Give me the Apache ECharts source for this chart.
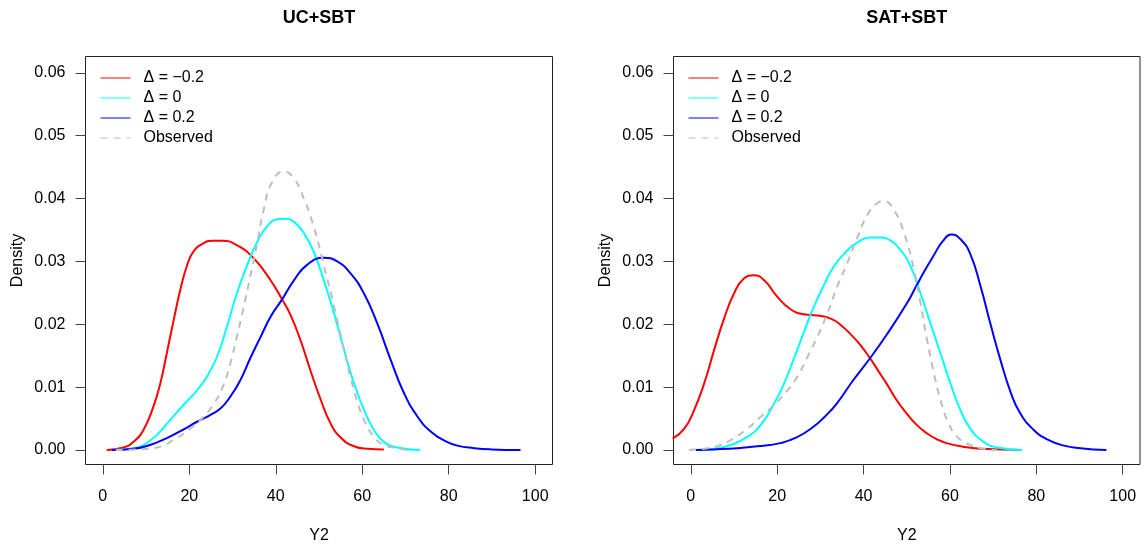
<!DOCTYPE html>
<html><head><meta charset="utf-8">
<script src="https://cdn.jsdelivr.net/npm/echarts@6/dist/echarts.min.js"></script>
<style>html,body{margin:0;padding:0;background:#fff}#c{width:1144px;height:548px}</style>
</head><body><div id="c"></div>
<script>
// ---- data ----
const panelTitles = ['UC+SBT', 'SAT+SBT'];
const seriesNames = ['\u0394 = \u22120.2', '\u0394 = 0', '\u0394 = 0.2', 'Observed'];
const xTicks = [0, 20, 40, 60, 80, 100];
const yTicks = [0, 0.01, 0.02, 0.03, 0.04, 0.05, 0.06];
const xAxisTitle = 'Y2';
const yAxisTitle = 'Density';

// UC+SBT panel: [Y2, density]
const ucNeg = [[0.9,0],[4.8,0.0004],[7.1,0.0013],[9.4,0.0032],[11.7,0.0069],[13.3,0.0106],[14.8,0.0154],[16.4,0.0207],[17.9,0.0254],[19.5,0.0294],[21.0,0.0316],[23.3,0.0329],[25.5,0.0333],[27.6,0.0333],[31.0,0.0326],[34.9,0.0305],[38.8,0.0270],[41.5,0.0239],[43.4,0.0215],[45.7,0.0175],[48.0,0.0127],[50.4,0.0080],[52.7,0.0042],[55.0,0.0020],[58.1,0.0006],[61.2,0.0002],[65.0,0.0001]];
const ucZero = [[2.1,0],[7.1,0.0003],[9.4,0.0008],[12.5,0.0024],[15.6,0.0048],[18.7,0.0072],[21.8,0.0095],[24.1,0.0117],[26.4,0.0148],[28.7,0.0196],[31.0,0.0249],[33.4,0.0294],[35.7,0.0331],[38.0,0.0356],[40.3,0.0367],[42.2,0.0368],[44.2,0.0363],[46.5,0.0345],[48.8,0.0315],[51.1,0.0270],[53.5,0.0217],[55.8,0.0159],[58.1,0.0106],[60.4,0.0064],[62.7,0.0032],[65.0,0.0013],[68.1,0.0004],[73.4,0]];
const ucPos = [[2.1,0],[7.1,0.0002],[10.9,0.0008],[14.8,0.0019],[18.7,0.0033],[21.8,0.0045],[24.9,0.0056],[27.2,0.0066],[29.5,0.0085],[31.8,0.0111],[34.1,0.0146],[36.5,0.0180],[38.8,0.0212],[41.5,0.0240],[44.2,0.0270],[47.3,0.0295],[51.1,0.0306],[54.2,0.0300],[57.3,0.0281],[60.4,0.0249],[63.5,0.0201],[66.6,0.0143],[69.7,0.0090],[72.8,0.0053],[75.9,0.0029],[79.0,0.0015],[82.0,0.0007],[85.9,0.0003],[89.8,0.0001],[96.6,0]];
const ucObs = [[3.0,0],[7.9,0.0001],[12.5,0.0004],[16.4,0.0016],[20.2,0.0034],[23.3,0.0053],[25.7,0.0074],[27.6,0.0098],[29.5,0.0138],[31.0,0.0180],[32.6,0.0228],[34.1,0.0276],[35.7,0.0329],[37.2,0.0382],[39.2,0.0427],[41.9,0.0443],[44.2,0.0432],[46.5,0.0400],[48.8,0.0355],[51.1,0.0294],[53.5,0.0228],[55.8,0.0159],[58.1,0.0095],[60.4,0.0048],[62.7,0.0021],[65.0,0.0008],[68.1,0.0003],[70.4,0]];

// SAT+SBT panel
const satNeg = [[-4.2,0.0018],[-1.5,0.0034],[0.8,0.0064],[3.1,0.0106],[5.4,0.0159],[7.7,0.0209],[10.0,0.0249],[12.3,0.0273],[14.6,0.0278],[17.0,0.0270],[20.0,0.0244],[23.1,0.0224],[26.2,0.0216],[29.3,0.0214],[32.4,0.0209],[34.7,0.0199],[37.6,0.0180],[39.5,0.0165],[41.5,0.0146],[43.4,0.0126],[45.3,0.0106],[47.6,0.0080],[50.0,0.0058],[52.3,0.0040],[54.6,0.0027],[57.0,0.0017],[59.2,0.0011],[63.2,0.0005],[67.1,0.0002],[76.7,0]];
const satZero = [[1.2,0],[5.4,0.0002],[9.2,0.0008],[13.1,0.0021],[16.2,0.0040],[19.3,0.0074],[21.6,0.0106],[23.9,0.0146],[26.2,0.0188],[28.5,0.0228],[30.8,0.0262],[33.1,0.0292],[35.9,0.0315],[38.5,0.0330],[41.6,0.0338],[43.9,0.0338],[46.3,0.0333],[48.6,0.0318],[50.9,0.0292],[53.2,0.0249],[55.5,0.0201],[57.8,0.0154],[60.1,0.0106],[62.4,0.0064],[64.7,0.0034],[67.8,0.0013],[70.9,0.0004],[76.7,0]];
const satPos = [[1.2,0],[5.4,0.0001],[10.8,0.0003],[15.4,0.0006],[20.7,0.0011],[24.5,0.0020],[28.4,0.0037],[31.0,0.0053],[33.8,0.0074],[37.6,0.0111],[41.5,0.0146],[45.3,0.0183],[50.0,0.0233],[52.3,0.0262],[54.3,0.0287],[56.2,0.0309],[58.3,0.0332],[60.4,0.0343],[62.5,0.0335],[64.7,0.0312],[67.1,0.0260],[69.4,0.0200],[71.7,0.0143],[74.0,0.0093],[76.3,0.0058],[79.4,0.0032],[82.5,0.0017],[86.4,0.0007],[90.2,0.0003],[96.2,0]];
const satObs = [[-0.4,0],[3.9,0.0003],[6.9,0.0008],[10.0,0.0019],[13.1,0.0034],[16.2,0.0053],[19.3,0.0072],[22.4,0.0095],[24.7,0.0117],[27.0,0.0148],[29.3,0.0180],[31.6,0.0217],[33.9,0.0260],[36.2,0.0297],[38.5,0.0337],[40.9,0.0374],[43.2,0.0393],[44.7,0.0396],[47.0,0.0382],[49.4,0.0345],[51.7,0.0286],[53.2,0.0233],[54.7,0.0175],[56.3,0.0122],[57.8,0.0080],[59.7,0.0042],[61.7,0.0021],[64.0,0.0010],[67.1,0.0003],[70.9,0]];

const panelData = [[ucNeg, ucZero, ucPos, ucObs], [satNeg, satZero, satPos, satObs]];
const colors = ['#FF0000', '#00FFFF', '#0000FF', '#BEBEBE'];

// ---- layout ----
const FONT = 'Liberation Sans, Arial, Helvetica, sans-serif';
const grids = [
  {left: 85.5, top: 56.5, width: 467, height: 408},
  {left: 673.5, top: 56.5, width: 466.5, height: 408}
];

const option = {
  animation: false,
  textStyle: {fontFamily: FONT},
  grid: grids.map(g => Object.assign({show: true, borderColor: '#222', borderWidth: 1, backgroundColor: 'transparent', containLabel: false, outerBoundsMode: 'none'}, g)),
  xAxis: grids.map((g, i) => ({
    type: 'value', gridIndex: i, min: -4, max: 104,
    name: xAxisTitle, nameLocation: 'middle', nameGap: 63,
    nameTextStyle: {fontSize: 16, color: '#000', fontFamily: FONT},
    axisLine: {show: false, onZero: false},
    axisTick: {show: true, inside: false, length: 10, customValues: xTicks, lineStyle: {color: '#444', width: 1}},
    axisLabel: {customValues: xTicks, fontSize: 16, color: '#000', margin: 24, fontFamily: FONT},
    splitLine: {show: false}
  })),
  yAxis: grids.map((g, i) => ({
    type: 'value', gridIndex: i, min: -0.0023, max: 0.0626,
    name: yAxisTitle, nameLocation: 'middle', nameGap: 60, nameRotate: 90,
    nameTextStyle: {fontSize: 16, color: '#000', fontFamily: FONT},
    axisLine: {show: false, onZero: false},
    axisTick: {show: true, inside: false, length: 10, customValues: yTicks, lineStyle: {color: '#444', width: 1}},
    axisLabel: {customValues: yTicks, fontSize: 16, color: '#000', margin: 20, fontFamily: FONT,
      formatter: v => v.toFixed(2)},
    splitLine: {show: false}
  })),
  legend: grids.map((g, i) => ({
    left: g.left + 14.5, top: 70, orient: 'vertical', padding: 0,
    itemWidth: 30, itemHeight: 14, itemGap: 4,
    selectedMode: false,
    data: seriesNames,
    itemStyle: {opacity: 0, borderWidth: 0},
    lineStyle: {width: 1},
    textStyle: {fontSize: 16, color: '#000', lineHeight: 16, padding: [0, 0, 0, 8], fontFamily: FONT}
  })),
  graphic: panelTitles.map((t, i) => ({
    type: 'text',
    x: grids[i].left + grids[i].width / 2,
    y: 18.5,
    style: {text: t, font: 'bold 18px ' + FONT, fill: '#000', textAlign: 'center', textVerticalAlign: 'middle'}
  })),
  series: []
};

[3, 0, 1, 2].forEach(k => {
  panelData.forEach((pd, i) => {
    option.series.push({
      type: 'line', name: seriesNames[k], xAxisIndex: i, yAxisIndex: i,
      data: pd[k], showSymbol: false, symbol: 'none',
      smooth: 0.5,
      lineStyle: {color: colors[k], width: 2, type: k === 3 ? [7, 6] : 'solid'},
      itemStyle: {color: colors[k]},
      z: 2 + k
    });
  });
});

const chart = echarts.init(document.getElementById('c'), null, {renderer: 'canvas'});
chart.setOption(option);
</script>
</body></html>
